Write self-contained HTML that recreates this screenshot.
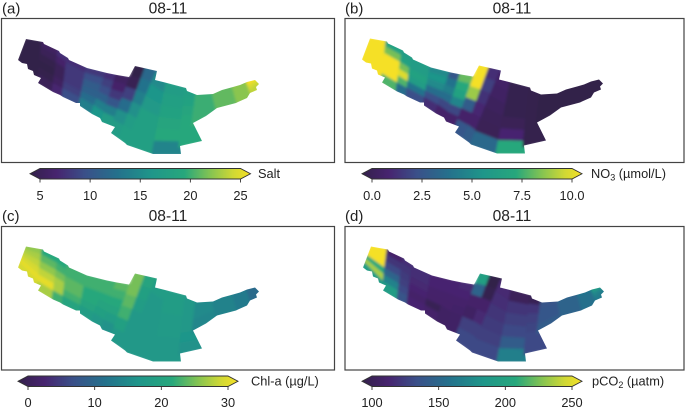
<!DOCTYPE html>
<html lang="en">
<head>
<meta charset="utf-8">
<title>Estuary maps 08-11</title>
<style>
html,body{margin:0;padding:0;background:#fff;width:685px;height:408px;overflow:hidden}
svg{display:block;font-family:"Liberation Sans",Arial,sans-serif;fill:#222;filter:blur(0.35px)}
</style>
</head>
<body>
<svg id="fig" width="685" height="408" viewBox="0 0 685 408" xmlns="http://www.w3.org/2000/svg">
<defs>
<linearGradient id="cmap" x1="0" x2="1" y1="0" y2="0">
<stop offset="0" stop-color="#33204a"/>
<stop offset="0.12" stop-color="#47246f"/>
<stop offset="0.25" stop-color="#3a5089"/>
<stop offset="0.4" stop-color="#24728c"/>
<stop offset="0.55" stop-color="#1f968a"/>
<stop offset="0.7" stop-color="#27a77c"/>
<stop offset="0.82" stop-color="#86c451"/>
<stop offset="0.92" stop-color="#cfd835"/>
<stop offset="1" stop-color="#f5e026"/>
</linearGradient>
<clipPath id="outline"><polygon points="26,39 43,42 44,44 59,51 60,53 68,58 69,60 87,68 107,73 117,75 129,77 135,66 157,71 155,80 167,83 186,88 187,91 197,95 213,94 222,90 233,87 240,85 247,82 255,80 259,84 256,87 257,90 250,93 247,98 238,102 236,103 217,108 206,116 193,123 202,141 180,146 181,154 153,154 127,145 125,143 111,133 115,127 102,122 100,118 92,114 80,106 80,103 76,103 63,97 60,95 53,92 38,83 41,78 34,75 33,71 28,69 27,64 22,63 18,60"/></clipPath>
<filter id="soften" x="-5%" y="-5%" width="110%" height="110%"><feGaussianBlur stdDeviation="1.4"/></filter>
</defs>
</svg>
<script>
// Values: one row per channel section, listed top bank to bottom bank.
const saltValues = [
 [5,5,5,5,5,5],[6.5,6,5.2,5,5.2,6],[8,7,6,6,6.5,7.5],[8,8.5,8.5,8.5,9,10],
 [8.5,10,11,11.5,12.5,14],[8,9,10,11.5,14,16],[6.5,7,8.5,10.5,14,17],[5,5.5,9,12.5,15.5,17],
 [12,13,14,15.5,17,17.5],[15,16,16.5,17.5,17.5,17.5],[17,17.5,18,18.5,19,14.5],[17.5,18,18.5,19,19,19],
 [19.5,19.5,19.5,19.5,19.5,19.5],[20.5,20.5,20.5,20.5,20.5,20.5],[21.5,21.5,21.5,21.5,21.5,21.5],[25,25,24,23.5,23,23]
];
const no3Values = [
 [10,10,10,10,10,10],[6.5,8,10,10,10,7.5],[6,6.5,8,9.5,7.5,3.8],[6,6,6.5,6,4,2.5],
 [5,5.5,5,3.8,2.5,1.5],[2.8,4,4.5,3.8,2.2,1],[7.8,7,6.5,4.8,2.2,1],[10,10,8.5,3,1,2.8],
 [1.5,2,1.6,1.3,1,3],[.9,.8,.6,.5,.4,3.5],[.2,.2,.2,.4,1.2,7],[.1,.1,.1,.1,.1,.1],
 [0,0,0,0,0,0],[0,0,0,0,0,0],[0,0,0,0,0,0],[0,0,0,0,0,0]
];
const chlValues = [
 [25,26,27,28,29,28],[21,23,25,27,29,26],[21,22,24,26,26,22],[22,22,23,23,22,20],
 [22,22,21,21,20,18],[22,22,21,20,19,17],[23,22,21,20,18,16],[24,24,23,22,19,17],
 [20,19,18,17,17,17],[18,17,17,17,17,17],[18,18,17.5,17.5,17,17],[17,17,17,17,16.5,16],
 [15,15,15,15,14.5,14.5],[14,14,14,14,14,14],[13,13,13,13,13,13],[11,11,11,11,11,11]
];
const pco2Values = [
 [250,250,250,205,230,190],[115,125,135,150,170,190],[122,125,128,130,135,140],[122,122,120,118,115,118],
 [118,118,116,115,105,115],[118,118,116,115,112,112],[120,118,116,114,113,113],[195,150,115,112,130,135],
 [100,103,115,120,130,135],[120,122,125,128,130,135],[108,125,130,135,145,168],[105,125,130,132,135,135],
 [140,140,142,142,142,145],[150,150,150,150,150,150],[160,160,158,158,158,158],[190,190,175,170,165,165]
];
const saltTicks = [5,10,15,20,25];
const no3Ticks = [0,2.5,5,7.5,10];
const chlTicks = [0,10,20,30];
const pco2Ticks = [100,150,200,250];
const saltLabels = ["5","10","15","20","25"];
const no3Labels = ["0.0","2.5","5.0","7.5","10.0"];
const chlLabels = ["0","10","20","30"];
const pco2Labels = ["100","150","200","250"];

const NS = "http://www.w3.org/2000/svg";
const fig = document.getElementById("fig");

// Section geometry of the estuary: top-left, top-right, bottom-right, bottom-left.
const sections = [
 [[26,39],[43,42],[38,83],[18,60]],[[43,42],[59,51],[53,92],[38,83]],[[59,51],[68,58],[63,97],[53,92]],
 [[68,58],[87,68],[80,106],[63,97]],[[87,68],[107,73],[92,114],[80,106]],[[107,73],[117,75],[102,122],[92,114]],
 [[117,75],[131,78],[114,128],[102,122]],[[135,66],[146,68],[120,139],[110,133]],[[146,68],[157,71],[127,145],[120,139]],
 [[156,74],[167,83],[153,154],[127,145]],[[167,83],[186,88],[181,154],[153,154]],[[186,88],[198,91],[203,141],[180,146]],
 [[197,92],[213,92],[218,109],[193,124]],[[213,92],[233,85],[238,103],[217,109]],[[233,85],[247,80],[253,97],[238,103]],
 [[247,80],[256,78],[261,86],[253,97]]
];
const colorStops = [[0,"#33204a"],[.12,"#47246f"],[.25,"#3a5089"],[.4,"#24728c"],[.55,"#1f968a"],[.7,"#27a77c"],[.82,"#86c451"],[.92,"#cfd835"],[1,"#f5e026"]];

function hex(c){return [1,3,5].map(i=>parseInt(c.substr(i,2),16));}
function colorAt(t){
  t=Math.max(0,Math.min(1,t));
  for(let i=1;i<colorStops.length;i++){
    if(t<=colorStops[i][0]){
      const a=colorStops[i-1],b=colorStops[i],f=(t-a[0])/(b[0]-a[0]);
      const ca=hex(a[1]),cb=hex(b[1]);
      return "rgb("+ca.map((v,k)=>Math.round(v+(cb[k]-v)*f)).join(",")+")";
    }
  }
  return colorStops[colorStops.length-1][1];
}
function lerp(p,q,f){return [p[0]+(q[0]-p[0])*f,p[1]+(q[1]-p[1])*f];}

function addText(parent,x,y,str,size,anchor){
  const t=document.createElementNS(NS,"text");
  t.setAttribute("x",x);
  t.setAttribute("y",y);
  t.setAttribute("font-size",size);
  t.setAttribute("text-anchor",anchor||"middle");
  t.textContent=str;
  parent.appendChild(t);
  return t;
}

function drawPanel(p){
  const g=document.createElementNS(NS,"g");
  
  
  fig.appendChild(g);

  const letter=addText(g,p.letterX,p.titleY,"("+p.id+")",15,"start");
  
  
  const title=addText(g,p.titleX,p.titleY,"08-11",15.6);
  
  

  const frame=document.createElementNS(NS,"rect");
  frame.setAttribute("x",p.frame[0]);
  frame.setAttribute("y",p.frame[1]);
  frame.setAttribute("width",p.frame[2]);
  frame.setAttribute("height",p.frame[3]);
  frame.setAttribute("fill","#fff");
  frame.setAttribute("stroke","#444");
  frame.setAttribute("stroke-width","1.2");
  
  
  g.appendChild(frame);

  const wrap=document.createElementNS(NS,"g");
  wrap.setAttribute("transform","translate("+p.dx+","+p.dy+")");
  wrap.setAttribute("clip-path","url(#outline)");
  
  
  g.appendChild(wrap);

  const cells=document.createElementNS(NS,"g");
  cells.setAttribute("filter","url(#soften)");
  
  
  wrap.appendChild(cells);

  const span=p.ticks[p.ticks.length-1]-p.ticks[0];
  const norm=v=>(v-p.ticks[0])/span;
  p.values.forEach((rows,ci)=>{
    const s=sections[ci];
    rows.forEach((v,ri)=>{
      const f0=ri/rows.length,f1=(ri+1)/rows.length;
      const a=lerp(s[0],s[3],f0),b=lerp(s[1],s[2],f0),c=lerp(s[1],s[2],f1),d=lerp(s[0],s[3],f1);
      const cell=document.createElementNS(NS,"polygon");
      cell.setAttribute("points",[a,b,c,d].map(q=>q[0].toFixed(1)+","+q[1].toFixed(1)).join(" "));
      const col=colorAt(norm(v));
      cell.setAttribute("fill",col);
      cell.setAttribute("stroke",col);
      cell.setAttribute("stroke-width","3");
      
      
      cells.appendChild(cell);
    });
  });

  // Colour bar
  const x0=p.bar[0],x1=p.bar[1],y0=p.barY,y1=p.barY+10.5,ym=(y0+y1)/2;
  const bar=document.createElementNS(NS,"polygon");
  bar.setAttribute("points",x0+","+y0+" "+x1+","+y0+" "+(x1+10)+","+ym+" "+x1+","+y1+" "+x0+","+y1+" "+(x0-10)+","+ym);
  bar.setAttribute("fill","url(#cmap)");
  bar.setAttribute("stroke","#333");
  bar.setAttribute("stroke-width","0.9");
  
  
  g.appendChild(bar);

  const barX=v=>x0+norm(v)*(x1-x0);
  p.ticks.forEach((v,i)=>{
    const tick=document.createElementNS(NS,"line");
    tick.setAttribute("x1",barX(v));
    tick.setAttribute("x2",barX(v));
    tick.setAttribute("y1",y1);
    tick.setAttribute("y2",y1+3.5);
    tick.setAttribute("stroke","#333");
    tick.setAttribute("stroke-width","0.9");
    
    
    g.appendChild(tick);
    const lab=addText(g,barX(v),p.tickY,p.labels[i],12.8);
    
    
  });

  const unit=addText(g,p.unitX,y1-1,"",12.8,"start");
  
  
  p.unit.forEach(part=>{
    const ts=document.createElementNS(NS,"tspan");
    ts.textContent=part[0];
    if(part[1]){
      ts.setAttribute("font-size","9");
      ts.setAttribute("dy","2.5");
    } else if(part[2]){
      ts.setAttribute("dy","-2.5");
    }
    unit.appendChild(ts);
  });
}

drawPanel({id:"a",letterX:2,titleX:168,titleY:13.5,frame:[1.5,18.5,333,144],dx:0,dy:0,
  values:saltValues,ticks:saltTicks,labels:saltLabels,bar:[40,240.5],barY:168.5,tickY:200,unitX:258,unit:[["Salt"]]});
drawPanel({id:"b",letterX:345,titleX:512,titleY:13.5,frame:[345,18.5,339,144],dx:344,dy:-0.5,
  values:no3Values,ticks:no3Ticks,labels:no3Labels,bar:[372,572],barY:168.5,tickY:200,unitX:591,unit:[["NO"],["3",true],[" (µmol/L)",false,true]]});
drawPanel({id:"c",letterX:2,titleX:168,titleY:221,frame:[1.5,226.5,333,143.5],dx:0,dy:207.5,
  values:chlValues,ticks:chlTicks,labels:chlLabels,bar:[28,228],barY:376,tickY:407,unitX:251,unit:[["Chl-a (µg/L)"]]});
drawPanel({id:"d",letterX:345,titleX:512,titleY:221,frame:[345,226.5,339,143.5],dx:345,dy:207.5,
  values:pco2Values,ticks:pco2Ticks,labels:pco2Labels,bar:[372,572],barY:376,tickY:407,unitX:592,unit:[["pCO"],["2",true],[" (µatm)",false,true]]});
</script>
</body>
</html>
